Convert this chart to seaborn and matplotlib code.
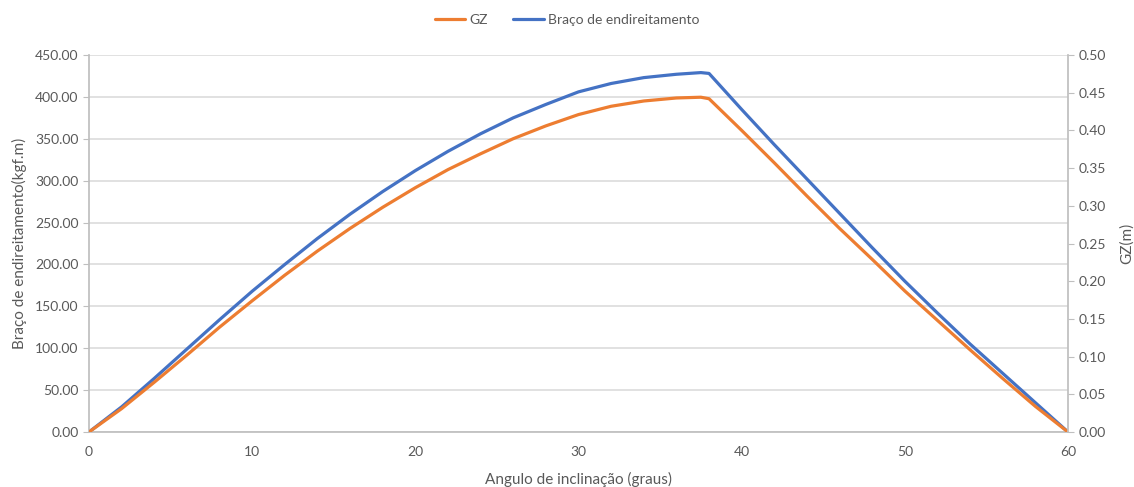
import numpy as np
import pandas as pd
import seaborn as sns
import matplotlib
matplotlib.use("Agg")
import matplotlib.pyplot as plt
from matplotlib.lines import Line2D

# ---- data ----
angulo = [0, 2, 4, 6, 8, 10, 12, 14, 16, 18, 20, 22, 24, 26, 28, 30, 32, 34, 36, 37.5,
          38, 40, 42, 44, 46, 48, 50, 52, 54, 56, 58, 60]
braco = [0, 30, 64, 99, 134, 168, 200, 231, 260, 287, 312, 335, 356, 375, 391, 406, 416,
         423, 427, 429, 428, 385, 343, 302, 261, 220, 180, 142, 105, 70, 35, 0]
gz = [0, 0.031, 0.066, 0.102, 0.139, 0.174, 0.208, 0.240, 0.270, 0.298, 0.324, 0.348,
      0.369, 0.389, 0.406, 0.421, 0.432, 0.439, 0.443, 0.444, 0.442, 0.400, 0.357, 0.313,
      0.270, 0.229, 0.187, 0.148, 0.109, 0.071, 0.034, 0]

x_ticks = [0, 10, 20, 30, 40, 50, 60]
left_ticks = [0, 50, 100, 150, 200, 250, 300, 350, 400, 450]
right_ticks = [0, 0.05, 0.10, 0.15, 0.20, 0.25, 0.30, 0.35, 0.40, 0.45, 0.50]

df = pd.DataFrame({"angulo": angulo, "braco": braco, "gz": gz})

sns.set_theme(style="white")
plt.rcParams["font.family"] = ["Lato", "DejaVu Sans"]

BLUE = "#4472C4"
ORANGE = "#ED7D31"
TXT = "#595959"
AXC = "#BFBFBF"
GRID = "#D9D9D9"
LW = 2.3

fig = plt.figure(figsize=(11.34, 4.87), dpi=100)
ax = fig.add_axes([89 / 1134, 55 / 487, (1068 - 89) / 1134, (432 - 55) / 487])
ax2 = ax.twinx()

sns.lineplot(data=df, x="angulo", y="braco", ax=ax, color=BLUE, linewidth=LW)
sns.lineplot(data=df, x="angulo", y="gz", ax=ax2, color=ORANGE, linewidth=LW)
for a in (ax, ax2):
    for ln in a.get_lines():
        ln.set_solid_joinstyle("round")
        ln.set_solid_capstyle("round")

ax.set_xlim(0, 60)
ax.set_ylim(0, 450)
ax2.set_ylim(0, 0.5)
ax.set_xticks(x_ticks)
ax.set_yticks(left_ticks)
ax2.set_yticks(right_ticks)
ax.set_yticklabels([f"{v:.2f}" for v in left_ticks])
ax2.set_yticklabels([f"{v:.2f}" for v in right_ticks])

ax.grid(axis="y", color=GRID, linewidth=1.1)
ax.set_axisbelow(True)
ax2.grid(False)

for a in (ax, ax2):
    for s in a.spines.values():
        s.set_visible(False)
    a.tick_params(colors=TXT, labelsize=10, length=4, width=0.8)
    a.tick_params(axis="both", color=AXC)
for name in ("left", "bottom"):
    ax.spines[name].set_visible(True)
    ax.spines[name].set_color(AXC)
ax2.spines["right"].set_visible(True)
ax2.spines["right"].set_color(AXC)

ax.tick_params(axis="x", pad=6)
ax.set_xlabel("Angulo de inclinação (graus)", color=TXT, fontsize=11, labelpad=10)
ax.set_ylabel("Braço de endireitamento(kgf.m)", color=TXT, fontsize=11, labelpad=6)
ax2.set_ylabel("GZ(m)", color=TXT, fontsize=11, labelpad=10)

handles = [Line2D([], [], color=ORANGE, linewidth=LW),
           Line2D([], [], color=BLUE, linewidth=LW)]
fig.legend(handles, ["GZ", "Braço de endireitamento"], loc="center",
           bbox_to_anchor=(0.5, 1 - 20 / 487), ncol=2, frameon=False,
           fontsize=10, labelcolor=TXT, handlelength=2.2, handletextpad=0.3,
           columnspacing=1.8)

fig.savefig("out.png", dpi=100, facecolor="white")
